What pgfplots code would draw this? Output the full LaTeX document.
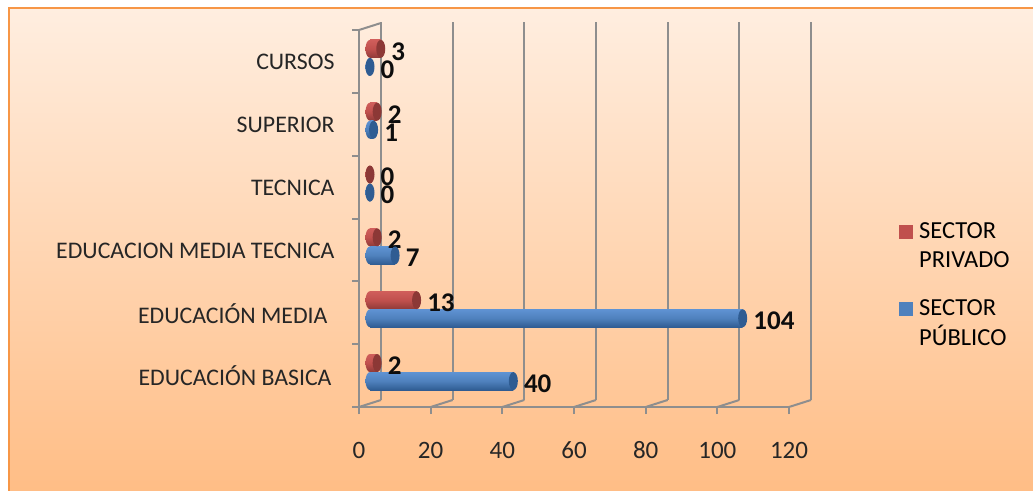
\documentclass[border=0pt]{standalone}
\usepackage{pgfplots}
\pgfplotsset{compat=1.18}
\usepackage{pgfplotstable}
\usepackage{fontspec}
\setmainfont{Carlito}
\definecolor{gridc}{HTML}{8E8E8E}
\definecolor{bluetop}{HTML}{5F93D3}
\definecolor{bluemid}{HTML}{4F81BD}
\definecolor{bluebot}{HTML}{2F5C92}
\definecolor{bluecap}{HTML}{2F5C92}
\definecolor{redtop}{HTML}{D05E5B}
\definecolor{redmid}{HTML}{C0504D}
\definecolor{redbot}{HTML}{8F3A38}
\definecolor{redcap}{HTML}{8C3836}
\pgfdeclareverticalshading{bluecyl}{100bp}{color(0bp)=(bluebot); color(25bp)=(bluebot); color(50bp)=(bluemid); color(75bp)=(bluetop); color(100bp)=(bluetop)}
\pgfdeclareverticalshading{redcyl}{100bp}{color(0bp)=(redbot); color(25bp)=(redbot); color(50bp)=(redmid); color(75bp)=(redtop); color(100bp)=(redtop)}
\pgfdeclareplotmark{cyl}{\pgfpathellipse{\pgfpointorigin}{\pgfqpoint{4.5pt}{0pt}}{\pgfqpoint{0pt}{9pt}}\pgfusepathqfill}
\pgfdeclareplotmark{blueleft}{\pgfpathmoveto{\pgfqpoint{0.3pt}{9pt}}\pgfpathlineto{\pgfqpoint{0pt}{9pt}}\pgfpatharc{90}{270}{4.5pt and 9pt}\pgfpathlineto{\pgfqpoint{0.3pt}{-9pt}}\pgfpathclose\pgfshadepath{bluecyl}{0}\pgfusepath{discard}}
\pgfdeclareplotmark{redleft}{\pgfpathmoveto{\pgfqpoint{0.3pt}{9pt}}\pgfpathlineto{\pgfqpoint{0pt}{9pt}}\pgfpatharc{90}{270}{4.5pt and 9pt}\pgfpathlineto{\pgfqpoint{0.3pt}{-9pt}}\pgfpathclose\pgfshadepath{redcyl}{0}\pgfusepath{discard}}
\pgfplotsset{
  redbar/.style={xbar,bar width=18pt,bar shift=0pt,draw=none,top color=redtop,bottom color=redbot,middle color=redmid,forget plot},
  bluebar/.style={xbar,bar width=18pt,bar shift=0pt,draw=none,top color=bluetop,bottom color=bluebot,middle color=bluemid,forget plot},
}
\pgfplotstableread{
cat publico privado
0 40 2
1 104 13
2 7 2
3 0 0
4 1 2
5 0 3
}\datatable
\begin{document}
\begin{tikzpicture}[x=1pt,y=1pt]
\path[use as bounding box] (0,0) rectangle (1033,490);
\fill[white] (0,0) rectangle (1033,490);
\shade[top color={rgb,255:red,255;green,238;blue,224}, bottom color={rgb,255:red,255;green,189;blue,133}, draw={rgb,255:red,247;green,150;blue,70}, line width=2pt] (9,-4) rectangle (1040,482);
% back wall grid
\begin{axis}[at={(381pt,90pt)},anchor=south west,scale only axis,width=430pt,height=378pt,
  xmin=0,xmax=120,ymin=0,ymax=1,xtick={0,20,...,120},ytick=\empty,xticklabels={},
  xmajorgrids,grid style={gridc,line width=2pt},axis line style={draw=none},
  major tick length=0pt,clip=false]
\end{axis}
% front axis
\begin{axis}[at={(359pt,83pt)},anchor=south west,scale only axis,width=430pt,height=377pt,
  xmin=0,xmax=120,ymin=-0.5,ymax=5.5,clip=false,
  axis x line=bottom,axis y line=left,axis line style={gridc,line width=2pt,-},
  tick style={gridc,line width=2pt},tick align=outside,
  major tick length=7pt,minor tick length=7pt,
  xtick={0,20,...,120},
  ytick={0,1,2,3,4,5},
  minor ytick={-0.5,0.5,1.5,2.5,3.5,4.5,5.5},
  y tick style={draw=none},
  minor y tick style={draw=gridc,line width=2pt},
  yticklabels={EDUCACIÓN BASICA\hspace{3pt}\mbox{},EDUCACIÓN MEDIA\hspace{7pt}\mbox{},EDUCACION MEDIA TECNICA,TECNICA,SUPERIOR,CURSOS},
  /pgf/number format/assume math mode=true,
  tick label style={font=\fontsize{25}{28}\selectfont,text=black!85},
  yticklabel style={font=\fontsize{23.8}{28}\selectfont,xshift=-14pt,yshift=-0.5pt},
  xticklabel style={yshift=-25pt,text height=16pt,text depth=0pt},
  ]
\pgfplotsinvokeforeach{0,20,40,60,80,100,120}{
  \draw[gridc,line width=2pt] (axis cs:#1,-0.5) -- ++(22pt,7pt);
}
\draw[gridc,line width=2pt] (axis cs:0,5.5) -- ++(22pt,7pt);
\end{axis}
% data
\begin{axis}[at={(370pt,83pt)},anchor=south west,scale only axis,width=430pt,height=377pt,
  xmin=0,xmax=120,ymin=-0.5,ymax=5.5,clip=false,hide axis,
  /pgf/number format/assume math mode=true,
  legend style={at={(rel axis cs:1,0.5)},anchor=north west,draw=none,fill=none,
    xshift=96pt,yshift=0pt,font=\fontsize{24.5}{29}\selectfont,
    cells={align=left,anchor=west},row sep=27pt,column sep=4pt},
  every node near coord/.style={font=\fontsize{27}{28}\selectfont\bfseries,text=black!95,anchor=west,xshift=10.5pt,yshift=-2.5pt,inner sep=0pt},
  legend image code/.code={\fill[#1,draw=none] (0pt,7pt) rectangle (14pt,21pt);},
  ]
% left ends
\addplot[only marks,mark=redleft,forget plot] table[x expr=0,y expr=\thisrow{cat}+0.2]{\datatable};
\addplot[only marks,mark=blueleft,forget plot] table[x expr=0,y expr=\thisrow{cat}-0.0875]{\datatable};
% bodies, one plot per bar so that each has its own shading
\addplot[redbar] coordinates {(2,0.2)};
\addplot[redbar] coordinates {(13,1.2)};
\addplot[redbar] coordinates {(2,2.2)};
\addplot[redbar] coordinates {(2,4.2)};
\addplot[redbar] coordinates {(3,5.2)};
\addplot[bluebar] coordinates {(40,-0.0875)};
\addplot[bluebar] coordinates {(104,0.9125)};
\addplot[bluebar] coordinates {(7,1.9125)};
\addplot[bluebar] coordinates {(1,3.9125)};
% end caps with values
\addplot[only marks,mark=cyl,mark options={fill=redcap,draw=none},forget plot,point meta=x,nodes near coords]
  table[x=privado,y expr=\thisrow{cat}+0.2]{\datatable};
\addplot[only marks,mark=cyl,mark options={fill=bluecap,draw=none},forget plot,point meta=x,nodes near coords]
  table[x=publico,y expr=\thisrow{cat}-0.0875]{\datatable};
\addlegendimage{fill=redmid}
\addlegendentry{SECTOR\\[0pt]PRIVADO}
\addlegendimage{fill=bluemid}
\addlegendentry{SECTOR\\[0pt]PÚBLICO}
\end{axis}
\end{tikzpicture}
\end{document}
